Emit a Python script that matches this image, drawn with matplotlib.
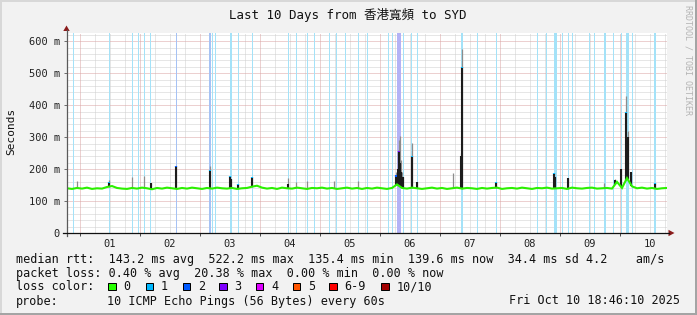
import numpy as np
import pandas as pd
import matplotlib
matplotlib.use("Agg")
import matplotlib.pyplot as plt
import matplotlib.dates as mdates
from matplotlib.patches import Rectangle, Polygon
from matplotlib.lines import Line2D

# ---------------- data ----------------
start = pd.Timestamp("2025-09-30 18:46:10")
end = pd.Timestamp("2025-10-10 18:46:10")

# median RTT (ms), one value every 2 hours from start
median_step_h = 2
median_ms = [
    140, 138, 141, 139, 142, 138, 140, 139, 144, 147, 141, 139,
    138, 141, 139, 142, 140, 137, 141, 139, 142, 140, 138, 141,
    139, 142, 140, 138, 141, 139, 142, 140, 139, 141, 138, 140,
    141, 145, 148, 142, 139, 141, 138, 142, 140, 139, 142, 140,
    138, 141, 140, 142, 139, 141, 138, 140, 142, 139, 141, 138,
    141, 139, 142, 140, 138, 141, 152, 141, 139, 142, 140, 138,
    140, 142, 139, 141, 138, 140, 142, 139, 141, 140, 138, 141,
    139, 141, 142, 138, 140, 141, 139, 142, 140, 138, 141, 140,
    142, 139, 140, 141, 138, 142, 140, 139, 141, 142, 139, 140,
    141, 139, 160, 141, 172, 146, 140, 142, 139, 141, 138, 140,
    141,
]

# packet-loss periods: centre hour (since graph start), duration in hours, loss level
loss_hour = [2.5, 16.9, 26.1, 28.7, 30.9, 32.4, 33.6, 43.7, 57.2, 58.4, 59.6, 65.5,
             68.5, 74.2, 88.6, 91.8, 96.1, 98.9, 105.0, 108.0, 111.4, 116.6, 120.1,
             128.5, 130.2, 132.9, 134.6, 138.0, 140.2, 158.0, 164.1, 171.9, 188.1,
             191.7, 195.5, 198.3, 200.5, 202.1, 208.9, 210.9, 215.1, 218.5, 221.9,
             224.3, 226.1, 235.2]
loss_dur = [0.4, 0.4, 0.4, 0.4, 0.4, 0.4, 0.4, 0.4, 0.8, 0.4, 0.4, 0.7,
            0.4, 0.4, 0.4, 0.4, 0.4, 0.4, 0.4, 0.4, 0.4, 0.4, 0.4,
            0.4, 0.4, 1.8, 0.4, 0.4, 0.4, 0.8, 0.4, 0.4, 0.4,
            0.4, 1.1, 0.4, 0.4, 0.4, 0.4, 0.4, 0.9, 0.4, 0.4,
            1.1, 0.4, 0.5]
loss_level = [1, 1, 1, 1, 1, 1, 1, 2, 2, 1, 1, 1,
              1, 1, 1, 1, 1, 1, 1, 1, 1, 1, 1,
              1, 1, 3, 1, 1, 1, 1, 1, 1, 1,
              1, 1, 1, 1, 1, 1, 1, 1, 1, 1,
              1, 1, 1]

# smoke spikes: hour, dense (black) top in ms (0 = none), sparse (gray) top in ms, loss level
spike_hour = [4.1, 16.8, 26.1, 30.9, 33.6, 43.6, 57.2, 65.2, 65.8, 68.4, 74.0, 88.5,
              91.7, 96.1, 106.9, 116.5, 131.8, 132.2, 132.6, 133.0, 133.4, 134.0,
              134.4, 138.0, 140.1, 154.5, 157.6, 158.0, 171.8, 194.8, 195.4, 200.5,
              214.8, 219.4, 221.6, 223.6, 224.2, 225.8, 235.0]
spike_black = [0, 160, 0, 0, 158, 211, 197, 179, 170, 153, 176, 153,
               0, 0, 0, 0, 180, 200, 257, 220, 190, 175,
               176, 242, 160, 0, 240, 520, 160, 189, 175, 173,
               0, 166, 199, 380, 300, 192, 157]
spike_gray = [163, 165, 176, 177, 158, 211, 211, 179, 170, 153, 176, 171,
              160, 164, 162, 162, 190, 260, 291, 303, 230, 190,
              176, 282, 160, 189, 250, 576, 160, 189, 175, 173,
              157, 170, 199, 430, 320, 192, 157]
spike_loss = [0, 1, 0, 0, 0, 2, 1, 1, 0, 1, 1, 0,
              0, 0, 0, 0, 2, 0, 3, 0, 0, 0,
              0, 1, 0, 0, 0, 1, 1, 1, 0, 0,
              0, 0, 0, 1, 0, 0, 1]

y_ticks_ms = [0, 100, 200, 300, 400, 500, 600]
loss_labels = ["0", "1", "2", "3", "4", "5", "6-9", "10/10"]
loss_colors = ["#26ff00", "#00b8ff", "#0059ff", "#7e00ff", "#dd00ff", "#ff5500", "#ff0000", "#a10000"]
band_colors = {1: "#a4e2f8", 2: "#a6c2f4", 3: "#b3b2f6"}

title = "Last 10 Days from 香港寬頻 to SYD"
rtt_text = "median rtt:  143.2 ms avg  522.2 ms max  135.4 ms min  139.6 ms now  34.4 ms sd 4.2    am/s"
loss_text = "packet loss: 0.40 % avg  20.38 % max  0.00 % min  0.00 % now"
probe_text = "10 ICMP Echo Pings (56 Bytes) every 60s"
stamp_text = "Fri Oct 10 18:46:10 2025"

# ---------------- figure ----------------
W, H = 697, 315
MONO = ["DejaVu Sans Mono", "Noto Sans CJK TC"]
fig = plt.figure(figsize=(W / 100, H / 100), dpi=100)
fig.patch.set_facecolor("#f2f2f2")


def fx(x):
    return x / W


def fy(y):
    return 1 - y / H


L, R, T, B = 67, 667, 32.7, 233
ax = fig.add_axes([fx(L), fy(B), (R - L) / W, (B - T) / H])
ax.set_facecolor("white")
for s in ax.spines.values():
    s.set_visible(False)

t0 = mdates.date2num(start)
t1 = mdates.date2num(end)


def hours_to_num(h):
    return t0 + np.asarray(h, dtype=float) / 24.0


ax.set_xlim(t0, t1)
ax.set_ylim(0, 627)

# grid
day_starts = pd.date_range(start.normalize() + pd.Timedelta(days=1), end, freq="D")
six_h = pd.date_range(start.ceil("6h"), end, freq="6h")
for d in six_h:
    if d.hour != 0:
        ax.axvline(mdates.date2num(d), color="#cfcfcf", lw=0.72, ls=(0, (1, 1)), zorder=1)
for v in range(20, 627, 20):
    if v % 100:
        ax.axhline(v, color="#cfcfcf", lw=0.72, ls=(0, (1, 1)), zorder=1)
for d in day_starts:
    ax.axvline(mdates.date2num(d), color="#dba3a3", lw=0.72, ls=(0, (1, 1)), zorder=1.1)
for v in y_ticks_ms[1:]:
    ax.axhline(v, color="#dba3a3", lw=0.72, ls=(0, (1, 1)), zorder=1.1)

# loss bands
for h, d, lv in zip(loss_hour, loss_dur, loss_level):
    ax.axvspan(hours_to_num(h - d / 2), hours_to_num(h + d / 2), color=band_colors[lv],
               lw=0, zorder=2)

# median
mh = np.arange(len(median_ms)) * median_step_h
med = np.array(median_ms, dtype=float)

# smoke
sh = np.array(spike_hour)
base = np.interp(sh, mh, med)
ax.vlines(hours_to_num(sh), base, spike_gray, color="#8c8c8c", lw=0.9, zorder=3)
sb = np.array(spike_black, dtype=float)
mask = sb > 0
ax.vlines(hours_to_num(sh[mask]), base[mask], sb[mask], color="#1c1c1c", lw=1.5, zorder=4)

ax.plot(hours_to_num(mh), med, color="#2cf000", lw=1.5, zorder=5, solid_joinstyle="miter")

for h, top, lv in zip(sh, sb, spike_loss):
    if lv > 0 and top > 0:
        ax.vlines(hours_to_num(h), top - 4, top, color=loss_colors[lv], lw=1.5, zorder=6)

# ticks
ax.set_yticks(y_ticks_ms)
ax.set_yticklabels(["0" if v == 0 else f"{v} m" for v in y_ticks_ms],
                   family=MONO, fontsize=7.5, color="#222222")
ax.tick_params(axis="y", length=2.2, width=0.72, color="#707070", pad=3)
ax.set_xticks([mdates.date2num(d) for d in day_starts])
ax.set_xticklabels([])
ax.tick_params(axis="x", which="major", length=2.2, width=0.72, color="#505050")
noons = [d + pd.Timedelta(hours=12) for d in day_starts]
ax.set_xticks([mdates.date2num(d) for d in noons], minor=True)
ax.set_xticklabels([d.strftime("%d") for d in noons], minor=True,
                   family=MONO, fontsize=7.5, color="#222222")
ax.tick_params(axis="x", which="minor", length=0, pad=4)

# axis lines with arrows
fig.add_artist(Line2D([fx(66.5), fx(66.5)], [fy(236), fy(30)], color="#5a5a5a", lw=0.9))
fig.add_artist(Polygon([[fx(63.3), fy(31)], [fx(69.7), fy(31)], [fx(66.5), fy(25.5)]],
                       closed=True, color="#8b1c1c", lw=0))
fig.add_artist(Line2D([fx(63), fx(669)], [fy(233), fy(233)], color="#111111", lw=0.9))
fig.add_artist(Polygon([[fx(668.5), fy(229.8)], [fx(668.5), fy(236.2)], [fx(674.5), fy(233)]],
                       closed=True, color="#8b1c1c", lw=0))

# title, labels
fig.text(fx(348), fy(15), title, family=MONO, fontsize=9, ha="center", va="center", color="#111111")
fig.text(fx(11), fy(131), "Seconds", family=MONO, fontsize=8, rotation=90,
         ha="center", va="center", color="#111111")
fig.text(fx(688), fy(60), "RRDTOOL / TOBI OETIKER", family=MONO, fontsize=6, rotation=270,
         ha="center", va="center", color="#b4b4b4")

# legend
LF = 8.5
fig.text(fx(16), fy(259), rtt_text, family=MONO, fontsize=LF, ha="left", va="center", color="#111111")
fig.text(fx(16), fy(273.3), loss_text, family=MONO, fontsize=LF, ha="left", va="center", color="#111111")
fig.text(fx(16), fy(287), "loss color:", family=MONO, fontsize=LF, ha="left", va="center", color="#111111")
sq_x = [108.3, 145.7, 182.7, 219.3, 256, 293, 329.3, 381.3]
for xs, lab, col in zip(sq_x, loss_labels, loss_colors):
    fig.add_artist(Rectangle((fx(xs), fy(290.2)), 7.2 / W, 7.2 / H, facecolor=col,
                             edgecolor="black", lw=0.72))
    fig.text(fx(xs + 15), fy(287), lab, family=MONO, fontsize=LF, ha="left", va="center", color="#111111")
fig.text(fx(16), fy(301), "probe:", family=MONO, fontsize=LF, ha="left", va="center", color="#111111")
fig.text(fx(107.3), fy(301), probe_text, family=MONO, fontsize=LF, ha="left", va="center", color="#111111")
fig.text(fx(680), fy(301), stamp_text, family=MONO, fontsize=LF, ha="right", va="center", color="#111111")

# frame
fig.add_artist(Rectangle((0, fy(2)), 1, 2 / H, facecolor="#d8d8d8", lw=0))
fig.add_artist(Rectangle((0, 0), 2 / W, 1, facecolor="#d8d8d8", lw=0))
fig.add_artist(Rectangle((0, 0), 1, 2.5 / H, facecolor="#a4a4a4", lw=0))
fig.add_artist(Rectangle((fx(695), 0), 2 / W, 1, facecolor="#a4a4a4", lw=0))

fig.savefig("out.png", dpi=100, facecolor=fig.get_facecolor())
